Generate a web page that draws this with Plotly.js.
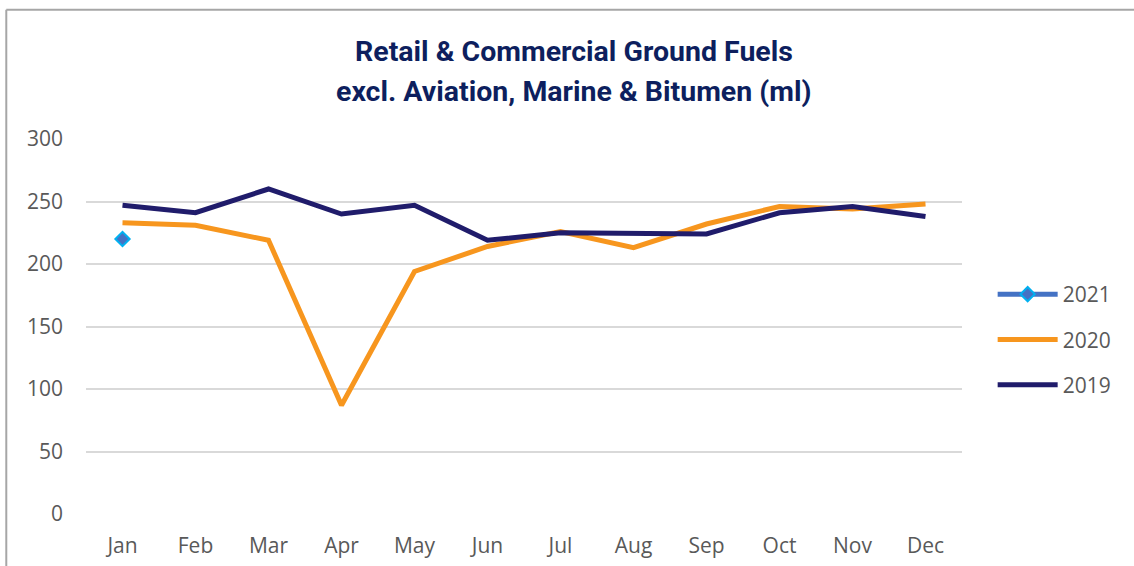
<!DOCTYPE html>
<html>
<head>
<meta charset="utf-8">
<script src="https://cdn.plot.ly/plotly-3.0.1.min.js"></script>
<style>
  html, body { margin: 0; padding: 0; background: #fff; }
  #chart { width: 1134px; height: 566px; }
</style>
</head>
<body>
<div id="chart"></div>
<script>
// months on the x axis
var months = ['Jan', 'Feb', 'Mar', 'Apr', 'May', 'Jun', 'Jul', 'Aug', 'Sep', 'Oct', 'Nov', 'Dec'];

// volumes (ml)
var v2021 = [220];
var v2020 = [233, 231, 219, 87, 194, 214, 226, 213, 232, 246, 244, 248];
var v2019 = [247, 241, 260, 240, 247, 219, 225, 224, 224, 241, 246, 238];

var titleLines = ['Retail & Commercial Ground Fuels', 'excl. Aviation, Marine & Bitumen (ml)'];

var tickFont = {family: 'Open Sans, sans-serif', size: 21, color: '#595959'};
var titleFont = {family: 'Roboto, sans-serif', size: 28.5, color: '#0d1f5e', weight: 'bold'};

var trace2021 = {
  x: months.slice(0, v2021.length),
  y: v2021,
  name: '2021',
  legendgroup: 'a',
  type: 'scatter',
  mode: 'lines+markers',
  line: {color: '#4472c4', width: 5},
  marker: {symbol: 'diamond', size: 11, color: '#4472c4', line: {color: '#00b0f0', width: 2}}
};

var trace2020 = {
  x: months,
  y: v2020,
  name: '2020',
  legendgroup: 'b',
  type: 'scatter',
  mode: 'lines',
  line: {color: '#f7961e', width: 5}
};

var trace2019 = {
  x: months,
  y: v2019,
  name: '2019',
  legendgroup: 'c',
  type: 'scatter',
  mode: 'lines',
  line: {color: '#201c6b', width: 5}
};

var layout = {
  width: 1134,
  height: 566,
  paper_bgcolor: '#ffffff',
  plot_bgcolor: '#ffffff',
  margin: {l: 86, r: 172, t: 139, b: 52},
  xaxis: {
    type: 'category',
    range: [-0.5, 11.5],
    showgrid: false,
    zeroline: false,
    showline: false,
    ticks: '',
    tickfont: tickFont,
    ticklabelstandoff: 17
  },
  yaxis: {
    range: [0, 300],
    dtick: 50,
    showgrid: true,
    gridcolor: '#d9d9d9',
    gridwidth: 2,
    zeroline: false,
    showline: false,
    ticks: '',
    tickfont: tickFont,
    ticklabelstandoff: 22
  },
  showlegend: true,
  legend: {
    x: 1.035,
    xanchor: 'left',
    y: 0.64,
    yanchor: 'top',
    itemwidth: 60,
    tracegroupgap: 15,
    font: tickFont,
    traceorder: 'grouped'
  },
  annotations: [
    {text: '<b>' + titleLines[0] + '</b>', xref: 'paper', yref: 'paper', x: 0.557, y: (514.5 - 51) / 375.5,
     xanchor: 'center', yanchor: 'middle', showarrow: false, font: titleFont},
    {text: '<b>' + titleLines[1] + '</b>', xref: 'paper', yref: 'paper', x: 0.557, y: (514.5 - 91) / 375.5,
     xanchor: 'center', yanchor: 'middle', showarrow: false, font: titleFont}
  ],
  shapes: [
    {type: 'line', xref: 'paper', yref: 'paper', x0: -0.091, x1: 1.3, y0: 1.345, y1: 1.345,
     line: {color: '#a6a6a6', width: 2}},
    {type: 'line', xref: 'paper', yref: 'paper', x0: -0.091, x1: -0.091, y0: 1.345, y1: -0.2,
     line: {color: '#a6a6a6', width: 2}}
  ]
};

Plotly.newPlot('chart', [trace2021, trace2020, trace2019], layout, {displayModeBar: false, staticPlot: true});
</script>
</body>
</html>
